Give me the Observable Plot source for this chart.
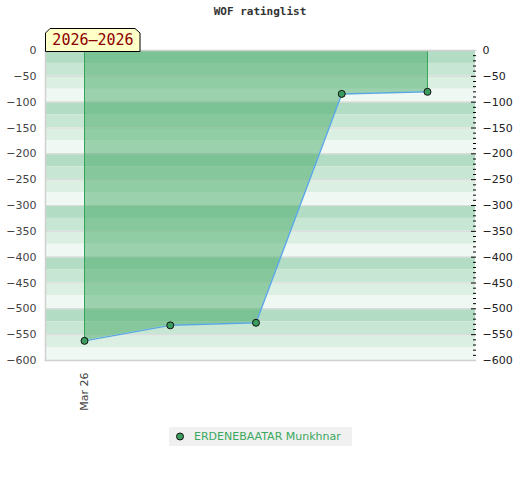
<!DOCTYPE html>
<html>
<head>
<meta charset="utf-8">
<script src="https://cdn.jsdelivr.net/npm/d3@7"></script>
<script src="https://cdn.jsdelivr.net/npm/@observablehq/plot@0.6"></script>
<style>
  body { margin: 0; background: #fff; }
  #wrap { position: relative; width: 520px; height: 480px; }
  #chart { position: absolute; left: 0; top: 0; }
  #title { position: absolute; left: 0; top: 5px; width: 520px; text-align: center;
    font: bold 11px "DejaVu Sans Mono", monospace; color: #333; }
  #badge { position: absolute; left: 45px; top: 28px; }
  #legend { position: absolute; left: 169px; top: 427px; width: 183px; height: 19px; background: #f0f0f0; }
  #legend span { position: absolute; left: 25px; top: 3px; font: 11px "DejaVu Sans", sans-serif; color: #3aa85e; white-space: nowrap; }
  #legend svg { position: absolute; left: 0; top: 0; }
</style>
</head>
<body>
<div id="wrap">
  <div id="chart"></div>
  <div id="title">WOF ratinglist</div>
  <svg id="badge" width="97" height="24">
    <polygon points="0.5,23.5 0.5,5 5,0.5 90,0.5 95,5 95,23.5" fill="#ffffc8" stroke="#000" stroke-width="1"/>
    <text x="48" y="17" text-anchor="middle" font-family="DejaVu Sans Mono, monospace" font-size="15" fill="#8b0000">2026–2026</text>
  </svg>
  <div id="legend">
    <svg width="20" height="19"><circle cx="11" cy="9.5" r="3.5" fill="#3a9d5d" stroke="#111"/></svg>
    <span>ERDENEBAATAR Munkhnar</span>
  </div>
</div>
<script>
const player = "ERDENEBAATAR Munkhnar";
const xLabels = ["Mar 26", "", "", "", ""];
const ratings = [-562, -532, -527, -84, -80];
const yTicks = [0, -50, -100, -150, -200, -250, -300, -350, -400, -450, -500, -550, -600];
const bandShades = ["#b3dcc4", "#c8e6d4", "#dcefe3", "#f0f8f3"];

const data = ratings.map((r, i) => ({i, r, label: xLabels[i]}));
const bands = d3.range(0, 24).map(k => ({y1: -25 * k, y2: -25 * (k + 1), fill: bandShades[k % 4]}));
const minorTicks = d3.range(0, -601, -10).filter(v => v % 50 !== 0);
const edges = [data[0], data[data.length - 1]];

const chart = Plot.plot({
  width: 520,
  height: 480,
  marginTop: 50,
  marginBottom: 120,
  marginLeft: 45,
  marginRight: 45,
  style: {fontFamily: "DejaVu Sans, sans-serif", fontSize: "11px", color: "#444", background: "transparent"},
  x: {domain: [-0.455, 4.56], axis: null},
  y: {domain: [-600, 0], axis: null},
  marks: [
    Plot.rect(bands, {y1: "y1", y2: "y2", fill: "fill"}),
    Plot.ruleY(yTicks, {stroke: "#dddddd", strokeWidth: 1.2}),
    Plot.areaY(data, {x: "i", y1: 0, y2: "r", fill: "#3ea861", fillOpacity: 0.48}),
    Plot.ruleX(edges, {x: "i", y1: 0, y2: "r", stroke: "#34a556", strokeWidth: 1}),
    Plot.line(data, {x: "i", y: "r", stroke: "#5aa8e0", strokeWidth: 1.5}),
    Plot.dot(data, {x: "i", y: "r", r: 3.5, fill: "#3a9d5d", stroke: "#111", strokeWidth: 1}),
    Plot.axisY({anchor: "left", ticks: yTicks, tickSize: 0, tickPadding: 9, label: null, fill: "#444"}),
    Plot.axisY({anchor: "right", ticks: yTicks, tickSize: 0, tickPadding: 7, label: null, fill: "#222"}),
    Plot.axisY({anchor: "right", ticks: yTicks, tickSize: 5, dx: -5, tickFormat: () => "", label: null, stroke: "#000"}),
    Plot.axisY({anchor: "right", ticks: minorTicks, tickSize: 3, dx: -3, tickFormat: () => "", label: null, stroke: "#000"}),
    Plot.axisX({ticks: [0], tickFormat: i => xLabels[i], tickRotate: -90, tickSize: 0, tickPadding: 12, label: null, fill: "#444"}),
    Plot.frame({anchor: "left", stroke: "#d0d0d0", strokeWidth: 1.5}),
    Plot.frame({anchor: "bottom", stroke: "#d0d0d0", strokeWidth: 1.5}),
    Plot.frame({anchor: "top", stroke: "#d0d0d0", strokeWidth: 1.5})
  ]
});
document.getElementById("chart").appendChild(chart);
</script>
</body>
</html>
